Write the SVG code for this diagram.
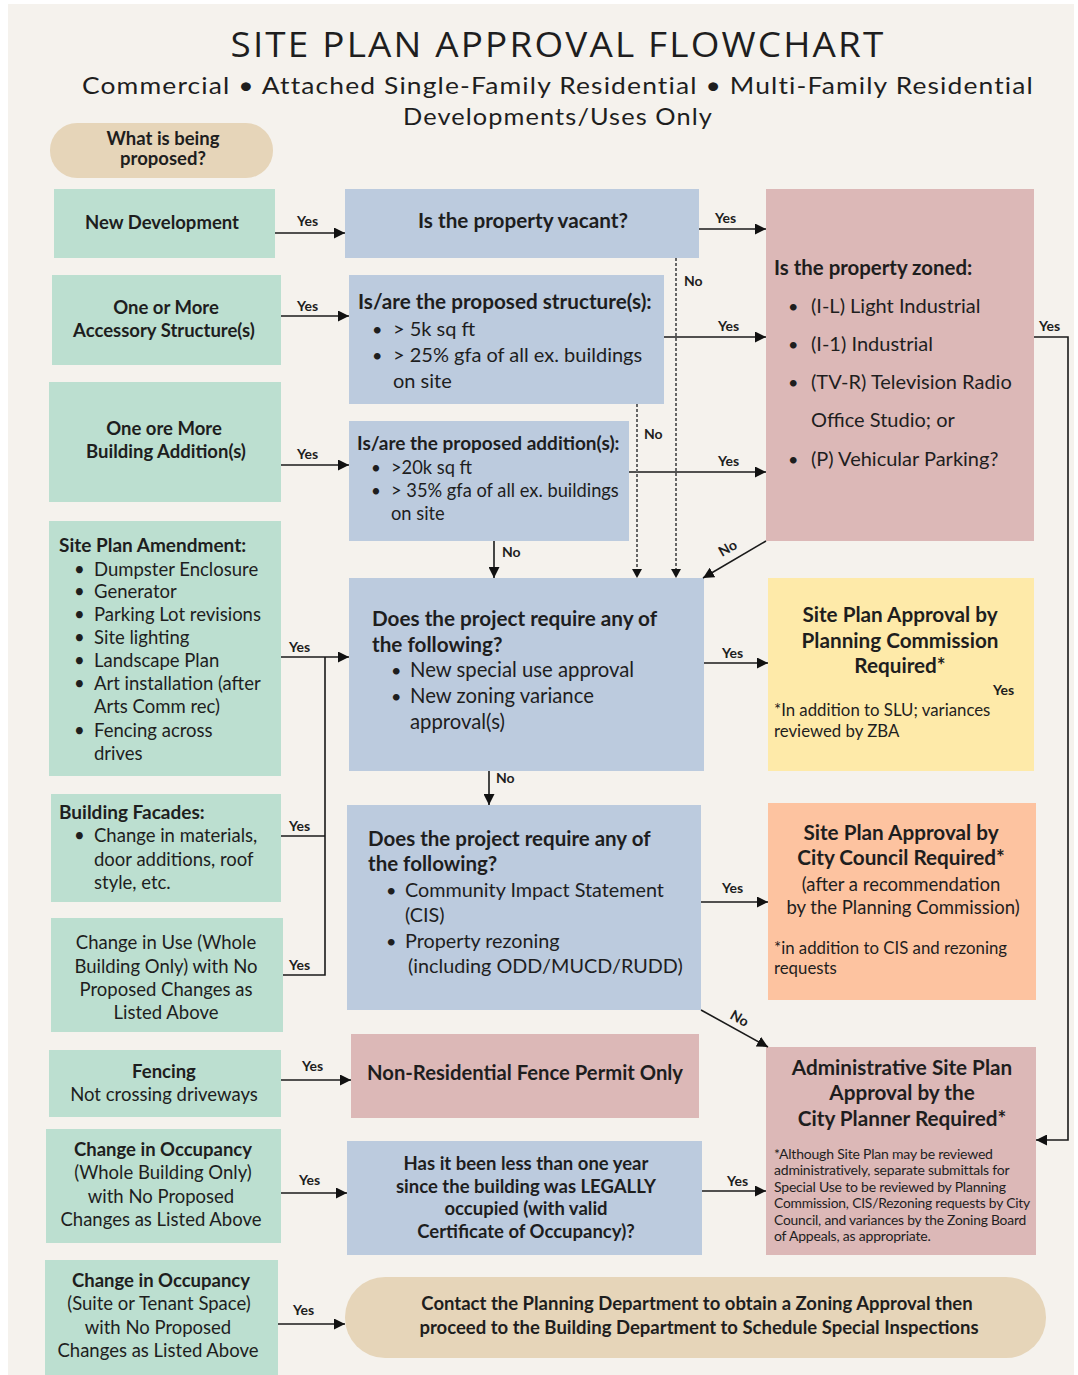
<svg xmlns="http://www.w3.org/2000/svg" width="1078" height="1375" viewBox="0 0 1078 1375">
<style>
text{font-family:Lato,"Noto Sans","Liberation Sans",sans-serif;fill:#1e1e1e}
.g{fill:#bcdfd0}.b{fill:#bccbde}.p{fill:#dcb8b7}.t{fill:#e6d5b9}.y{fill:#feeaa9}.o{fill:#fdc3a0}
.h{font-weight:bold;font-size:19px}
.hc{font-weight:bold;font-size:18.5px;text-anchor:middle}
.n{font-size:18.5px}
.nc{font-size:18.5px;text-anchor:middle}
.big{font-weight:bold;font-size:20.7px;text-anchor:middle}
.lbl{font-weight:bold;font-size:14px}
.sm{font-size:16.8px}
.xs{font-size:14px;letter-spacing:-0.2px}
.ln{stroke:#1a1a1a;stroke-width:1.6;fill:none}
.arr{marker-end:url(#ah)}
.ds{stroke:#666;stroke-width:2;stroke-dasharray:3 2;fill:none}
</style>
<defs>
<marker id="ah" viewBox="0 0 10 10" refX="10" refY="5" markerWidth="11" markerHeight="11" markerUnits="userSpaceOnUse" orient="auto"><path d="M0,0 L10,5 L0,10 z" fill="#111"/></marker>
</defs>
<rect x="0" y="0" width="1078" height="1375" fill="#ffffff"/>
<rect x="8" y="4" width="1066" height="1371" fill="#f5f2ed"/>

<g id="title">
<text x="558" y="57" text-anchor="middle" font-size="34" letter-spacing="2" textLength="655" lengthAdjust="spacingAndGlyphs" style="font-family:'Open Sans',Lato,sans-serif">SITE PLAN APPROVAL FLOWCHART</text>
<text x="558" y="94" text-anchor="middle" font-size="23" letter-spacing="1" textLength="952" lengthAdjust="spacingAndGlyphs">Commercial  • Attached Single-Family Residential  • Multi-Family Residential</text>
<text x="558" y="125" text-anchor="middle" font-size="23" letter-spacing="1" textLength="310" lengthAdjust="spacingAndGlyphs">Developments/Uses Only</text>
</g>

<g id="start">
<rect class="t" x="50" y="123" width="223" height="55" rx="27"/>
<text class="hc" x="163" y="145">What is being</text>
<text class="hc" x="163" y="165">proposed?</text>
</g>

<g id="newdev"><rect class="g" x="54" y="189" width="221" height="69"/>
<text class="hc" x="162" y="229">New Development</text></g>

<g id="accessory"><rect class="g" x="52" y="275" width="229" height="90"/>
<text class="hc" x="166" y="314">One or More</text>
<text class="hc" x="164" y="337">Accessory Structure(s)</text></g>

<g id="addition"><rect class="g" x="49" y="382" width="232" height="120"/>
<text class="hc" x="164" y="435">One ore More</text>
<text class="hc" x="166" y="458">Building Addition(s)</text></g>

<g id="amendment"><rect class="g" x="49" y="521" width="232" height="255"/>
<text class="h" x="59" y="552">Site Plan Amendment:</text>
<text class="n" x="74" y="576">•</text><text class="n" x="94" y="576">Dumpster Enclosure</text>
<text class="n" x="74" y="598">•</text><text class="n" x="94" y="598">Generator</text>
<text class="n" x="74" y="621">•</text><text class="n" x="94" y="621">Parking Lot revisions</text>
<text class="n" x="74" y="644">•</text><text class="n" x="94" y="644">Site lighting</text>
<text class="n" x="74" y="667">•</text><text class="n" x="94" y="667">Landscape Plan</text>
<text class="n" x="74" y="690">•</text><text class="n" x="94" y="690">Art installation (after</text>
<text class="n" x="94" y="713">Arts Comm rec)</text>
<text class="n" x="74" y="737">•</text><text class="n" x="94" y="737">Fencing across</text>
<text class="n" x="94" y="760">drives</text>
</g>

<g id="facades"><rect class="g" x="51" y="794" width="230" height="108"/>
<text class="h" x="59" y="819">Building Facades:</text>
<text class="n" x="74" y="842">•</text><text class="n" x="94" y="842">Change in materials,</text>
<text class="n" x="94" y="866">door additions, roof</text>
<text class="n" x="94" y="889">style, etc.</text></g>

<g id="changeuse"><rect class="g" x="51" y="918" width="232" height="114"/>
<text class="nc" x="166" y="949">Change in Use (Whole</text>
<text class="nc" x="166" y="973">Building Only) with No</text>
<text class="nc" x="166" y="996">Proposed Changes as</text>
<text class="nc" x="166" y="1019">Listed Above</text></g>

<g id="fencing"><rect class="g" x="49" y="1050" width="232" height="67"/>
<text class="hc" x="164" y="1078">Fencing</text>
<text class="nc" x="164" y="1101">Not crossing driveways</text></g>

<g id="occwhole"><rect class="g" x="46" y="1129" width="235" height="114"/>
<text class="hc" x="163" y="1156">Change in Occupancy</text>
<text class="nc" x="163" y="1179">(Whole Building Only)</text>
<text class="nc" x="161" y="1203">with No Proposed</text>
<text class="nc" x="161" y="1226">Changes as Listed Above</text></g>

<g id="occsuite"><rect class="g" x="45" y="1260" width="233" height="115"/>
<text class="hc" x="161" y="1287">Change in Occupancy</text>
<text class="nc" x="159" y="1310">(Suite or Tenant Space)</text>
<text class="nc" x="158" y="1334">with No Proposed</text>
<text class="nc" x="158" y="1357">Changes as Listed Above</text></g>

<g id="vacant"><rect class="b" x="345" y="189" width="354" height="69"/>
<text class="big" x="523" y="228" font-size="21">Is the property vacant?</text></g>

<g id="structures"><rect class="b" x="349" y="275" width="315" height="129"/>
<text x="358" y="309" font-size="20.7" font-weight="bold">Is/are the proposed structure(s):</text>
<text x="372" y="336" font-size="18">•</text><text x="393" y="336" font-size="20">&gt; 5k sq ft</text>
<text x="372" y="362" font-size="18">•</text><text x="393" y="362" font-size="20">&gt; 25% gfa of all ex. buildings</text>
<text x="393" y="388" font-size="20">on site</text></g>

<g id="additions"><rect class="b" x="349" y="421" width="280" height="120"/>
<text x="357" y="450" font-size="19" font-weight="bold">Is/are the proposed addition(s):</text>
<text x="371" y="474" font-size="17">•</text><text x="391" y="474" font-size="18.3">&gt;20k sq ft</text>
<text x="371" y="497" font-size="17">•</text><text x="391" y="497" font-size="18.3">&gt; 35% gfa of all ex. buildings</text>
<text x="391" y="520" font-size="18.3">on site</text></g>

<g id="require1"><rect class="b" x="349" y="578" width="355" height="193"/>
<text x="372" y="626" font-size="20.7" font-weight="bold">Does the project require any of</text>
<text x="372" y="652" font-size="20.7" font-weight="bold">the following?</text>
<text x="391" y="677" font-size="18">•</text><text x="410" y="677" font-size="20.3">New special use approval</text>
<text x="391" y="703" font-size="18">•</text><text x="410" y="703" font-size="20.3">New zoning variance</text>
<text x="410" y="729" font-size="20.3">approval(s)</text></g>

<g id="require2"><rect class="b" x="347" y="805" width="354" height="205"/>
<text x="368" y="846" font-size="20.5" font-weight="bold">Does the project require any of</text>
<text x="368" y="871" font-size="20.5" font-weight="bold">the following?</text>
<text x="386" y="897" font-size="18">•</text><text x="405" y="897" font-size="19.8">Community Impact Statement</text>
<text x="405" y="922" font-size="19.8">(CIS)</text>
<text x="386" y="948" font-size="18">•</text><text x="405" y="948" font-size="19.8">Property rezoning</text>
<text x="408" y="973" font-size="19.8">(including ODD/MUCD/RUDD)</text></g>

<g id="fence"><rect class="p" x="351" y="1034" width="348" height="84"/>
<text class="big" x="525" y="1080" textLength="316" lengthAdjust="spacingAndGlyphs">Non-Residential Fence Permit Only</text></g>

<g id="oneyear"><rect class="b" x="347" y="1141" width="355" height="114"/>
<text class="hc" x="526" y="1170">Has it been less than one year</text>
<text class="hc" x="526" y="1193">since the building was LEGALLY</text>
<text class="hc" x="526" y="1215">occupied (with valid</text>
<text class="hc" x="526" y="1238">Certificate of Occupancy)?</text></g>

<g id="contact"><rect class="t" x="345" y="1277" width="701" height="81" rx="40"/>
<text class="hc" x="697" y="1310">Contact the Planning Department to obtain a Zoning Approval then</text>
<text class="hc" x="699" y="1334">proceed to the Building Department to Schedule Special Inspections</text></g>

<g id="zoned"><rect class="p" x="766" y="189" width="268" height="352"/>
<text x="774" y="275" font-size="20.4" font-weight="bold">Is the property zoned:</text>
<text x="788" y="313" font-size="18">•</text><text x="811" y="313" font-size="20">(I-L) Light Industrial</text>
<text x="788" y="351" font-size="18">•</text><text x="811" y="351" font-size="20">(I-1) Industrial</text>
<text x="788" y="389" font-size="18">•</text><text x="811" y="389" font-size="20">(TV-R) Television Radio</text>
<text x="811" y="427" font-size="20">Office Studio; or</text>
<text x="788" y="466" font-size="18">•</text><text x="811" y="466" font-size="20">(P) Vehicular Parking?</text></g>

<g id="planning"><rect class="y" x="768" y="578" width="266" height="193"/>
<text class="big" x="900" y="622">Site Plan Approval by</text>
<text class="big" x="900" y="648">Planning Commission</text>
<text class="big" x="900" y="673">Required*</text>
<text class="lbl" x="993" y="695">Yes</text>
<text class="sm" x="774" y="716">*In addition to SLU; variances</text>
<text class="sm" x="774" y="737">reviewed by ZBA</text></g>

<g id="council"><rect class="o" x="768" y="803" width="268" height="197"/>
<text class="big" x="901" y="840">Site Plan Approval by</text>
<text class="big" x="901" y="865">City Council Required*</text>
<text class="nc" x="901" y="891" font-size="19">(after a recommendation</text>
<text class="nc" x="903" y="914" font-size="19">by the Planning Commission)</text>
<text class="sm" x="774" y="954">*in addition to CIS and rezoning</text>
<text class="sm" x="774" y="974">requests</text></g>

<g id="admin"><rect class="p" x="766" y="1047" width="270" height="208"/>
<text class="big" x="902" y="1075">Administrative Site Plan</text>
<text class="big" x="902" y="1100">Approval by the</text>
<text class="big" x="902" y="1126">City Planner Required*</text>
<text class="xs" x="774" y="1159">*Although Site Plan may be reviewed</text>
<text class="xs" x="774" y="1175">administratively, separate submittals for</text>
<text class="xs" x="774" y="1192">Special Use to be reviewed by Planning</text>
<text class="xs" x="774" y="1208" textLength="256" lengthAdjust="spacingAndGlyphs">Commission,  CIS/Rezoning requests by City</text>
<text class="xs" x="774" y="1225" textLength="252" lengthAdjust="spacingAndGlyphs">Council, and variances by the Zoning Board</text>
<text class="xs" x="774" y="1241">of Appeals, as appropriate.</text></g>

<g id="connectors">
<line class="ln arr" x1="275" y1="233" x2="345" y2="233"/>
<line class="ln arr" x1="281" y1="316" x2="349" y2="316"/>
<line class="ln arr" x1="281" y1="465" x2="349" y2="465"/>
<line class="ln arr" x1="699" y1="229" x2="766" y2="229"/>
<line class="ln arr" x1="664" y1="337" x2="766" y2="337"/>
<line class="ln arr" x1="629" y1="472" x2="766" y2="472"/>
<line class="ds" x1="676" y1="258" x2="676" y2="570"/>
<path d="M671,569 L681,569 L676,578 z" fill="#111"/>
<line class="ds" x1="637" y1="404" x2="637" y2="570"/>
<path d="M632,569 L642,569 L637,578 z" fill="#111"/>
<line class="ln arr" x1="494" y1="541" x2="494" y2="578"/>
<line class="ln arr" x1="766" y1="541" x2="703" y2="578"/>
<polyline class="ln arr" points="1034,337 1068,337 1068,1140 1036,1140"/>
<line class="ln arr" x1="281" y1="657" x2="349" y2="657"/>
<polyline class="ln" points="281,836 325,836"/>
<polyline class="ln" points="283,975 325,975 325,657"/>
<line class="ln arr" x1="704" y1="663" x2="768" y2="663"/>
<line class="ln arr" x1="489" y1="771" x2="489" y2="805"/>
<line class="ln arr" x1="701" y1="902" x2="768" y2="902"/>
<line class="ln arr" x1="701" y1="1010" x2="768" y2="1047"/>
<line class="ln arr" x1="281" y1="1080" x2="351" y2="1080"/>
<line class="ln arr" x1="281" y1="1193" x2="347" y2="1193"/>
<line class="ln arr" x1="702" y1="1191" x2="766" y2="1191"/>
<line class="ln arr" x1="278" y1="1324" x2="345" y2="1324"/>
<g class="lbls">
<text class="lbl" x="297" y="226">Yes</text>
<text class="lbl" x="297" y="311">Yes</text>
<text class="lbl" x="297" y="459">Yes</text>
<text class="lbl" x="715" y="223">Yes</text>
<text class="lbl" x="718" y="331">Yes</text>
<text class="lbl" x="718" y="466">Yes</text>
<text class="lbl" x="684" y="286">No</text>
<text class="lbl" x="644" y="439">No</text>
<text class="lbl" x="502" y="557">No</text>
<text class="lbl" x="1039" y="331">Yes</text>
<text class="lbl" x="289" y="652">Yes</text>
<text class="lbl" x="289" y="831">Yes</text>
<text class="lbl" x="289" y="970">Yes</text>
<text class="lbl" x="722" y="658">Yes</text>
<text class="lbl" x="496" y="783">No</text>
<text class="lbl" x="722" y="893">Yes</text>
<text class="lbl" x="302" y="1071">Yes</text>
<text class="lbl" x="299" y="1185">Yes</text>
<text class="lbl" x="727" y="1186">Yes</text>
<text class="lbl" x="293" y="1315">Yes</text>
<text class="lbl" transform="translate(722,557) rotate(-30)">No</text>
<text class="lbl" transform="translate(729,1018) rotate(30)">No</text>
</g>
</g>
</svg>
